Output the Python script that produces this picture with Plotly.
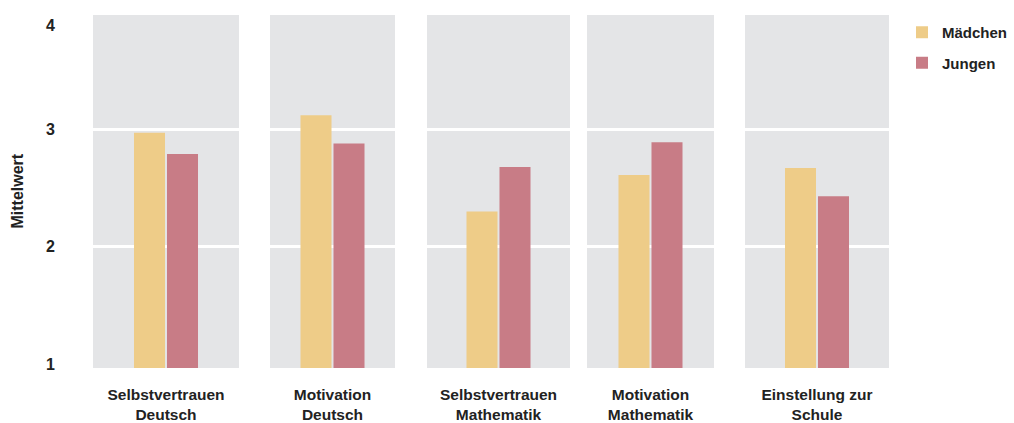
import plotly.graph_objects as go
from plotly.subplots import make_subplots

# Daten
kategorien = ["Selbstvertrauen<br>Deutsch", "Motivation<br>Deutsch",
              "Selbstvertrauen<br>Mathematik", "Motivation<br>Mathematik",
              "Einstellung zur<br>Schule"]
maedchen = [2.97, 3.12, 2.30, 2.61, 2.67]
jungen = [2.79, 2.88, 2.68, 2.89, 2.43]
y_ticks = [1, 2, 3, 4]
gitter = [2, 3]

W, H = 1014, 423
FONT = "Liberation Sans, Arial, Helvetica, sans-serif"
TXT = "#222222"
C_M = "#EECC88"
C_J = "#C87C86"
PANEL = "#E4E5E7"

# panel positions in px (left, right)
panels = [(93, 239), (270, 395), (427, 570), (587, 714), (745, 889)]
top_px, bot_px = 15, 368
y_range = [0.967, 3.974]
px_per_cat = 100.0

fig = make_subplots(rows=1, cols=len(kategorien), shared_yaxes=True)

for i, kat in enumerate(kategorien):
    fig.add_trace(go.Bar(x=[kat], y=[maedchen[i]], name="<b>Mädchen</b>", marker_color=C_M,
                         marker_line_width=0, legendgroup="m", showlegend=(i == 0)),
                  row=1, col=i + 1)
    fig.add_trace(go.Bar(x=[kat], y=[jungen[i]], name="<b>Jungen</b>", marker_color=C_J,
                         marker_line_width=0, legendgroup="j", showlegend=(i == 0)),
                  row=1, col=i + 1)

for i, (l, r) in enumerate(panels):
    half = (r - l) / 2 / px_per_cat
    fig.update_xaxes(domain=[l / W, r / W], range=[-half, half],
                     tickvals=[kategorien[i]], ticktext=["<b>%s</b>" % kategorien[i]],
                     showgrid=False, zeroline=False, showline=False,
                     ticks="outside", ticklen=12, tickcolor="rgba(0,0,0,0)",
                     tickfont=dict(family=FONT, size=15.5, color=TXT),
                     row=1, col=i + 1)
    fig.update_yaxes(domain=[1 - bot_px / H, 1 - top_px / H], range=y_range,
                     showticklabels=False, showgrid=False, zeroline=False,
                     minor=dict(tickvals=gitter, showgrid=True, gridcolor="white",
                                gridwidth=3),
                     row=1, col=i + 1)

# y-Tick-Beschriftungen (relativ zur Panelhöhe)
annotations = []
for v in y_ticks:
    pos = (v - y_range[0]) / (y_range[1] - y_range[0])
    annotations.append(dict(x=57 / W, y=min(pos, 1.0), xref="paper", yref="y domain",
                            xanchor="right",
                            yanchor="top" if pos >= 1 else "middle",
                            text="<b>%d</b>" % v, showarrow=False,
                            font=dict(family=FONT, size=16, color=TXT)))
annotations.append(dict(x=17 / W, y=1 - (top_px + bot_px) / 2 / H, xref="paper", yref="paper",
                        xanchor="center", yanchor="middle",
                        text="<b>Mittelwert</b>", textangle=-90, showarrow=False,
                        font=dict(family=FONT, size=16, color=TXT)))

fig.update_layout(
    width=W, height=H,
    margin=dict(l=0, r=0, t=0, b=0),
    paper_bgcolor="white",
    plot_bgcolor=PANEL,
    barmode="group", bargap=0.34, bargroupgap=0.06,
    font=dict(family=FONT, size=15, color=TXT),
    legend=dict(x=902 / W, y=1 - 16 / H, xanchor="left", yanchor="top",
                traceorder="grouped", tracegroupgap=8,
                font=dict(family=FONT, size=15, color=TXT),
                bgcolor="rgba(0,0,0,0)"),
    annotations=annotations,
)

fig.write_html("out.html", config={"displayModeBar": False},
               post_script="document.body.style.margin='0';")
